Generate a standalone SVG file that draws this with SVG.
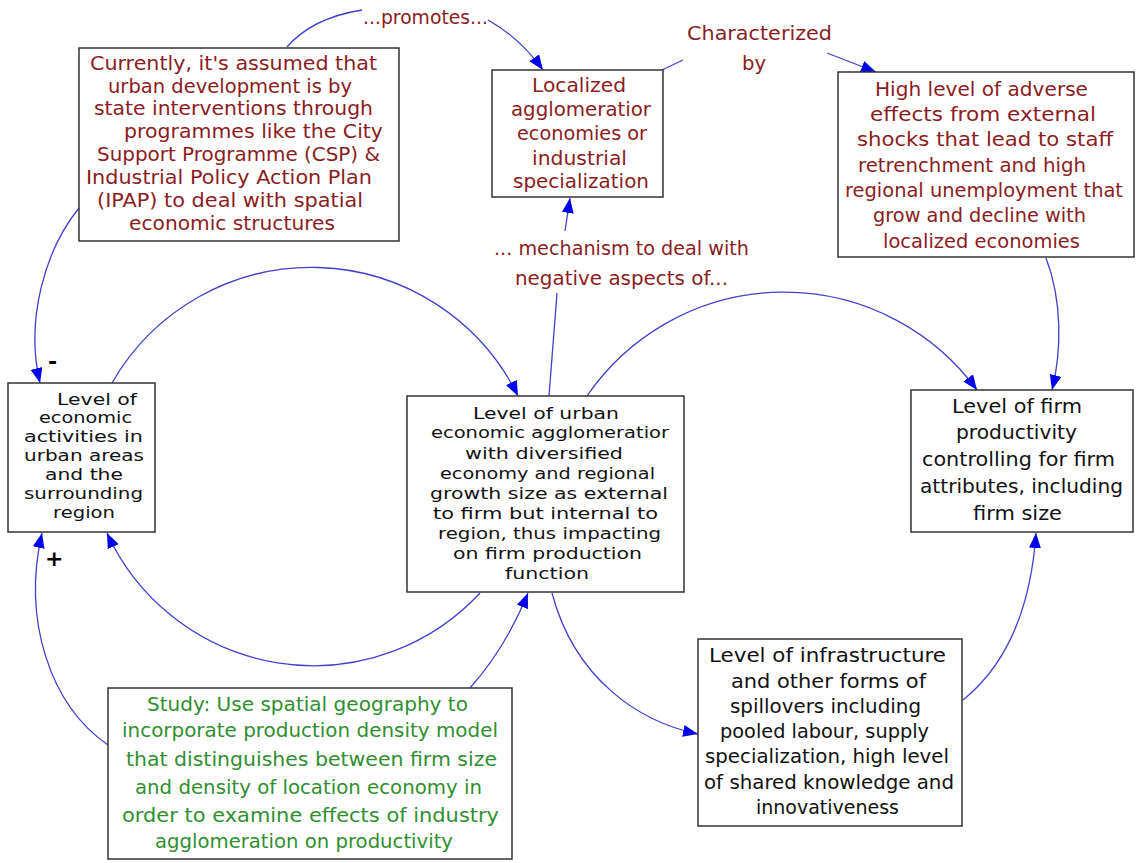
<svg xmlns="http://www.w3.org/2000/svg" width="1137" height="863" viewBox="0 0 1137 863">
<style>
text{font-family:"DejaVu Sans","Liberation Sans",sans-serif;font-size:20px}
.box{fill:#fff;stroke:#333;stroke-width:1.5}
.red{fill:#8b1c22}
.blk{fill:#111}
.grn{fill:#2f8f2f}
.sm{font-size:16.5px}
.sign{font-weight:bold;font-size:22px;fill:#000}
.con{fill:none;stroke:#4040cc;stroke-width:1.3}
.arr{marker-end:url(#ah)}
</style>
<defs>
<marker id="ah" markerUnits="userSpaceOnUse" markerWidth="16" markerHeight="12" refX="15" refY="6" orient="auto">
<path d="M0,0 L15,6 L0,12 z" fill="#0000ee"/>
</marker>
</defs>
<rect width="1137" height="863" fill="#fff"/>
<g id="connectors">
<path class="con" d="M287,47 Q312,18 362,10"/>
<path class="con arr" d="M488,20 Q520,38 543,70"/>
<path class="con" d="M662,70 L683,60"/>
<path class="con arr" d="M827,53 L876,72"/>
<path class="con" d="M549,396 L557,293"/>
<path class="con arr" d="M565,231 L570,198"/>
<path class="con arr" d="M112,383 A230,230 0 0 1 518,396"/>
<path class="con arr" d="M587,396 A239,239 0 0 1 977,390"/>
<path class="con arr" d="M1046,258 C1062,300 1062,350 1052,390"/>
<path class="con arr" d="M963,700 C1000,670 1030,620 1036,533"/>
<path class="con arr" d="M552,593 C575,680 640,722 698,734"/>
<path class="con arr" d="M480,593 A227,227 0 0 1 107,533"/>
<path class="con arr" d="M470,688 C495,660 515,625 528,593"/>
<path class="con arr" d="M108,745 C50,705 22,620 42,533"/>
<path class="con arr" d="M79,208 C45,250 25,320 40,383"/>
</g>
<g id="labels">
<text class="red" x="363" y="24" textLength="125" lengthAdjust="spacingAndGlyphs">...promotes...</text>
<text class="red" x="687" y="40" textLength="145" lengthAdjust="spacingAndGlyphs">Characterized</text>
<text class="red" x="742" y="70" textLength="24" lengthAdjust="spacingAndGlyphs">by</text>
<text class="red" x="494" y="255" textLength="255" lengthAdjust="spacingAndGlyphs">... mechanism to deal with</text>
<text class="red" x="515" y="285" textLength="213" lengthAdjust="spacingAndGlyphs">negative aspects of...</text>
<text class="sign" x="48" y="369">-</text>
<text class="sign" x="45" y="566">+</text>
</g>
<g id="node-current">
<rect class="box" x="79" y="48" width="320" height="193"/>
<text class="red" x="90" y="70" textLength="287" lengthAdjust="spacingAndGlyphs">Currently, it's assumed that</text>
<text class="red" x="108" y="93" textLength="244" lengthAdjust="spacingAndGlyphs">urban development is by</text>
<text class="red" x="94" y="115" textLength="279" lengthAdjust="spacingAndGlyphs">state interventions through</text>
<text class="red" x="124" y="138" textLength="259" lengthAdjust="spacingAndGlyphs">programmes like the City</text>
<text class="red" x="97" y="161" textLength="283" lengthAdjust="spacingAndGlyphs">Support Programme (CSP) &amp;</text>
<text class="red" x="86" y="184" textLength="286" lengthAdjust="spacingAndGlyphs">Industrial Policy Action Plan</text>
<text class="red" x="97" y="207" textLength="266" lengthAdjust="spacingAndGlyphs">(IPAP) to deal with spatial</text>
<text class="red" x="129" y="230" textLength="206" lengthAdjust="spacingAndGlyphs">economic structures</text>
</g>
<g id="node-localized">
<rect class="box" x="492" y="70" width="171" height="127"/>
<text class="red" x="532" y="92" textLength="94" lengthAdjust="spacingAndGlyphs">Localized</text>
<text class="red" x="511" y="116" textLength="140" lengthAdjust="spacingAndGlyphs">agglomeratior</text>
<text class="red" x="517" y="140" textLength="130" lengthAdjust="spacingAndGlyphs">economies or</text>
<text class="red" x="532" y="165" textLength="95" lengthAdjust="spacingAndGlyphs">industrial</text>
<text class="red" x="513" y="188" textLength="136" lengthAdjust="spacingAndGlyphs">specialization</text>
</g>
<g id="node-adverse">
<rect class="box" x="838" y="72" width="296" height="185"/>
<text class="red" x="875" y="96" textLength="213" lengthAdjust="spacingAndGlyphs">High level of adverse</text>
<text class="red" x="870" y="121" textLength="226" lengthAdjust="spacingAndGlyphs">effects from external</text>
<text class="red" x="857" y="146" textLength="256" lengthAdjust="spacingAndGlyphs">shocks that lead to staff</text>
<text class="red" x="858" y="172" textLength="228" lengthAdjust="spacingAndGlyphs">retrenchment and high</text>
<text class="red" x="845" y="197" textLength="278" lengthAdjust="spacingAndGlyphs">regional unemployment that</text>
<text class="red" x="873" y="222" textLength="213" lengthAdjust="spacingAndGlyphs">grow and decline with</text>
<text class="red" x="883" y="248" textLength="197" lengthAdjust="spacingAndGlyphs">localized economies</text>
</g>
<g id="node-activities">
<rect class="box" x="8" y="383" width="147" height="149"/>
<text class="blk sm" x="57" y="405" textLength="80" lengthAdjust="spacingAndGlyphs">Level of</text>
<text class="blk sm" x="39" y="423" textLength="93" lengthAdjust="spacingAndGlyphs">economic</text>
<text class="blk sm" x="24" y="442" textLength="119" lengthAdjust="spacingAndGlyphs">activities in</text>
<text class="blk sm" x="24" y="461" textLength="120" lengthAdjust="spacingAndGlyphs">urban areas</text>
<text class="blk sm" x="45" y="480" textLength="78" lengthAdjust="spacingAndGlyphs">and the</text>
<text class="blk sm" x="24" y="499" textLength="119" lengthAdjust="spacingAndGlyphs">surrounding</text>
<text class="blk sm" x="53" y="518" textLength="62" lengthAdjust="spacingAndGlyphs">region</text>
</g>
<g id="node-urban">
<rect class="box" x="407" y="396" width="277" height="196"/>
<text class="blk sm" x="473" y="419" textLength="146" lengthAdjust="spacingAndGlyphs">Level of urban</text>
<text class="blk sm" x="431" y="438" textLength="238" lengthAdjust="spacingAndGlyphs">economic agglomeratior</text>
<text class="blk sm" x="465" y="459" textLength="158" lengthAdjust="spacingAndGlyphs">with diversified</text>
<text class="blk sm" x="440" y="479" textLength="215" lengthAdjust="spacingAndGlyphs">economy and regional</text>
<text class="blk sm" x="430" y="499" textLength="238" lengthAdjust="spacingAndGlyphs">growth size as external</text>
<text class="blk sm" x="433" y="519" textLength="225" lengthAdjust="spacingAndGlyphs">to firm but internal to</text>
<text class="blk sm" x="438" y="539" textLength="223" lengthAdjust="spacingAndGlyphs">region, thus impacting</text>
<text class="blk sm" x="453" y="559" textLength="189" lengthAdjust="spacingAndGlyphs">on firm production</text>
<text class="blk sm" x="505" y="579" textLength="84" lengthAdjust="spacingAndGlyphs">function</text>
</g>
<g id="node-firm">
<rect class="box" x="911" y="390" width="222" height="142"/>
<text class="blk" x="952" y="413" textLength="130" lengthAdjust="spacingAndGlyphs">Level of firm</text>
<text class="blk" x="956" y="439" textLength="121" lengthAdjust="spacingAndGlyphs">productivity</text>
<text class="blk" x="922" y="466" textLength="193" lengthAdjust="spacingAndGlyphs">controlling for firm</text>
<text class="blk" x="920" y="493" textLength="203" lengthAdjust="spacingAndGlyphs">attributes, including</text>
<text class="blk" x="973" y="520" textLength="89" lengthAdjust="spacingAndGlyphs">firm size</text>
</g>
<g id="node-infra">
<rect class="box" x="698" y="639" width="264" height="187"/>
<text class="blk" x="709" y="662" textLength="237" lengthAdjust="spacingAndGlyphs">Level of infrastructure</text>
<text class="blk" x="731" y="688" textLength="195" lengthAdjust="spacingAndGlyphs">and other forms of</text>
<text class="blk" x="730" y="713" textLength="191" lengthAdjust="spacingAndGlyphs">spillovers including</text>
<text class="blk" x="720" y="738" textLength="209" lengthAdjust="spacingAndGlyphs">pooled labour, supply</text>
<text class="blk" x="705" y="763" textLength="244" lengthAdjust="spacingAndGlyphs">specialization, high level</text>
<text class="blk" x="704" y="789" textLength="250" lengthAdjust="spacingAndGlyphs">of shared knowledge and</text>
<text class="blk" x="756" y="814" textLength="143" lengthAdjust="spacingAndGlyphs">innovativeness</text>
</g>
<g id="node-study">
<rect class="box" x="108" y="688" width="404" height="171"/>
<text class="grn" x="147" y="711" textLength="321" lengthAdjust="spacingAndGlyphs">Study: Use spatial geography to</text>
<text class="grn" x="122" y="737" textLength="376" lengthAdjust="spacingAndGlyphs">incorporate production density model</text>
<text class="grn" x="126" y="766" textLength="371" lengthAdjust="spacingAndGlyphs">that distinguishes between firm size</text>
<text class="grn" x="135" y="794" textLength="347" lengthAdjust="spacingAndGlyphs">and density of location economy in</text>
<text class="grn" x="122" y="822" textLength="377" lengthAdjust="spacingAndGlyphs">order to examine effects of industry</text>
<text class="grn" x="155" y="848" textLength="298" lengthAdjust="spacingAndGlyphs">agglomeration on productivity</text>
</g>
</svg>
